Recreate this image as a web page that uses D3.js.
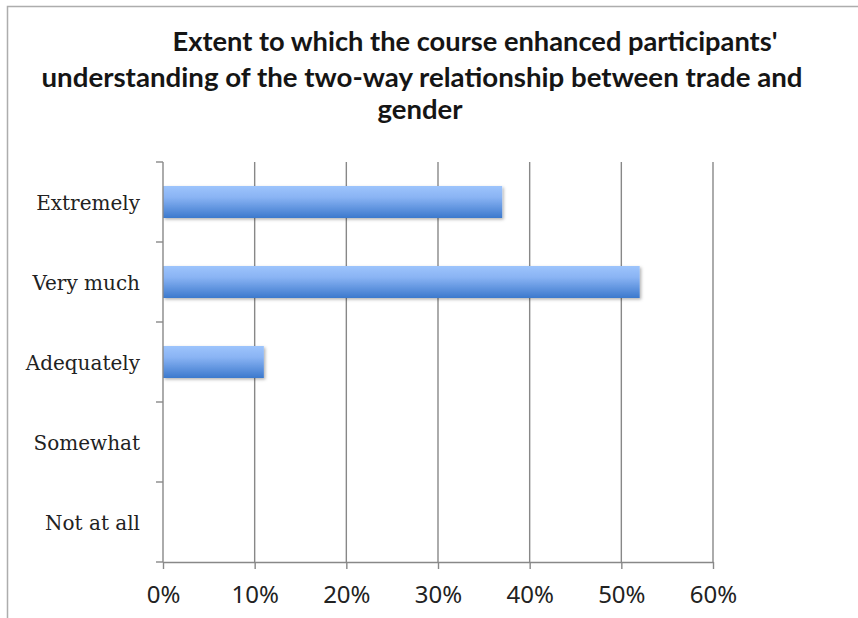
<!DOCTYPE html>
<html>
<head>
<meta charset="utf-8">
<script src="https://cdn.jsdelivr.net/npm/d3@7"></script>
<style>
  html, body { margin: 0; padding: 0; background: #fff; }
  svg { display: block; }
</style>
</head>
<body>
<svg id="chart" width="858" height="618"></svg>
<script>
// Survey responses: share of participants per answer
const categories = ["Extremely", "Very much", "Adequately", "Somewhat", "Not at all"];
const shares = [0.37, 0.52, 0.11, 0, 0];
const tickValues = [0, 0.1, 0.2, 0.3, 0.4, 0.5, 0.6];
const titleLines = [
  "Extent to which the course enhanced participants'",
  "understanding of the two-way relationship between trade and",
  "gender"
];

const svg = d3.select("#chart");
const W = 858, H = 618;
const plot = { left: 163, right: 713, top: 162, bottom: 562 };

// outer chart frame (right and bottom edges run off the page)
svg.append("rect")
  .attr("x", 7.5).attr("y", 6.5)
  .attr("width", W + 20).attr("height", H + 20)
  .attr("fill", "#fff")
  .attr("stroke", "#adadad").attr("stroke-width", 1.5);

// title, three lines; each line has its own centre and run length
const titleLayout = [
  { cx: 475, base: 51, len: 605 },
  { cx: 422, base: 87, len: 761 },
  { cx: 420, base: 119, len: 85 }
];
svg.append("g").selectAll("text")
  .data(titleLines)
  .join("text")
  .attr("x", (d, i) => titleLayout[i].cx)
  .attr("y", (d, i) => titleLayout[i].base)
  .attr("text-anchor", "middle")
  .attr("textLength", (d, i) => titleLayout[i].len)
  .attr("lengthAdjust", "spacingAndGlyphs")
  .attr("font-family", "Lato, 'Open Sans', sans-serif")
  .attr("font-weight", "bold")
  .attr("font-size", 27)
  .attr("fill", "#151515")
  .text(d => d);

const x = d3.scaleLinear().domain([0, 0.6]).range([plot.left, plot.right]);
const y = d3.scaleBand().domain(categories).range([plot.top, plot.bottom]).padding(0);

// vertical gridlines
svg.append("g").selectAll("line")
  .data(tickValues.slice(1))
  .join("line")
  .attr("x1", d => x(d)).attr("x2", d => x(d))
  .attr("y1", plot.top).attr("y2", plot.bottom)
  .attr("stroke", "#888").attr("stroke-width", 1.4);

// bar gradient and soft shadow
const defs = svg.append("defs");
const grad = defs.append("linearGradient")
  .attr("id", "barFill").attr("x1", 0).attr("y1", 0).attr("x2", 0).attr("y2", 1);
grad.append("stop").attr("offset", "0%").attr("stop-color", "#9dc4fc");
grad.append("stop").attr("offset", "35%").attr("stop-color", "#8ab4f4");
grad.append("stop").attr("offset", "100%").attr("stop-color", "#3c79cd");
const shadow = defs.append("filter").attr("id", "barShadow")
  .attr("x", "-5%").attr("y", "-30%").attr("width", "115%").attr("height", "170%");
shadow.append("feDropShadow")
  .attr("dx", 1.5).attr("dy", 1.5).attr("stdDeviation", 1.5)
  .attr("flood-color", "#000").attr("flood-opacity", 0.3);

const barH = y.bandwidth() * 0.4;
svg.append("g").selectAll("rect")
  .data(categories.map((c, i) => ({ c, v: shares[i] })))
  .join("rect")
  .attr("x", x(0))
  .attr("y", d => y(d.c) + y.bandwidth() / 2 - barH / 2)
  .attr("width", d => x(d.v) - x(0))
  .attr("height", barH)
  .attr("fill", "url(#barFill)")
  .attr("filter", "url(#barShadow)");

// category axis
const yAxis = svg.append("g")
  .attr("transform", `translate(${plot.left},0)`);
yAxis.append("line")
  .attr("x1", 0).attr("x2", 0).attr("y1", plot.top).attr("y2", plot.bottom)
  .attr("stroke", "#888").attr("stroke-width", 1.4);
yAxis.selectAll("line.tick")
  .data(categories.map(c => y(c)).concat([plot.bottom]))
  .join("line").attr("class", "tick")
  .attr("x1", -7).attr("x2", 0)
  .attr("y1", d => d).attr("y2", d => d)
  .attr("stroke", "#888").attr("stroke-width", 1.4);
yAxis.selectAll("text")
  .data(categories)
  .join("text")
  .attr("x", -23)
  .attr("y", d => y(d) + y.bandwidth() / 2 + 8)
  .attr("text-anchor", "end")
  .attr("font-family", "'DejaVu Serif', serif")
  .attr("font-size", 20)
  .attr("fill", "#222")
  .text(d => d);

// value axis
const xAxis = svg.append("g")
  .attr("transform", `translate(0,${plot.bottom})`)
  .call(d3.axisBottom(x).tickValues(tickValues).tickFormat(d3.format(".0%")).tickSize(7).tickSizeOuter(0));
xAxis.select(".domain").attr("stroke", "#888").attr("stroke-width", 1.4);
xAxis.selectAll(".tick line").attr("stroke", "#888").attr("stroke-width", 1.4);
xAxis.selectAll(".tick text")
  .attr("y", 41)
  .attr("dy", 0)
  .attr("font-family", "'Noto Sans', sans-serif")
  .attr("font-size", 24)
  .attr("fill", "#222");
</script>
</body>
</html>
